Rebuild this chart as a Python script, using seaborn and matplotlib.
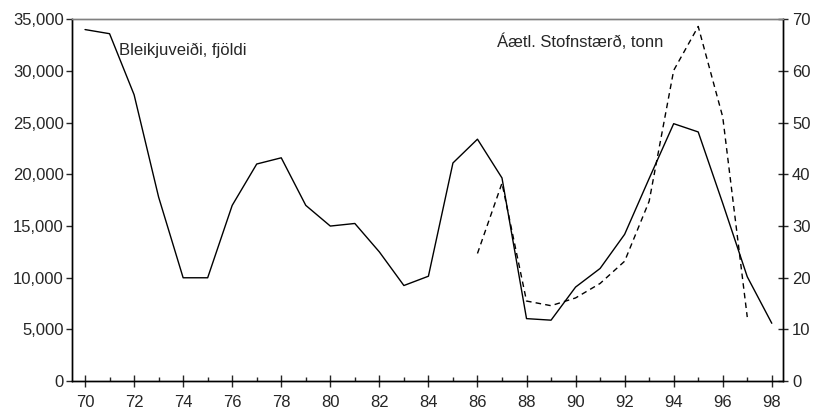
import pandas as pd
import matplotlib.pyplot as plt
import seaborn as sns
from matplotlib.ticker import FuncFormatter, MultipleLocator

# Catch (count), left axis
years = list(range(70, 99))
catch = [34000, 33600, 27700, 17800, 10000, 10000, 17000, 21000, 21600, 17000,
         15000, 15250, 12500, 9250, 10150, 21100, 23400, 19650, 6050, 5900,
         9100, 10900, 14200, 19600, 24900, 24100, 17200, 10100, 5600]

# Estimated stock size (tonnes), right axis
stock_years = list(range(86, 98))
stock = [24.7, 38.3, 15.5, 14.6, 16.1, 18.9, 23.2, 34.8, 60.1, 68.6, 51.1, 12.4]

catch_label = "Bleikjuveiði, fjöldi"
stock_label = "Áætl. Stofnstærð, tonn"

df_catch = pd.DataFrame({"year": years, "catch": catch})
df_stock = pd.DataFrame({"year": stock_years, "stock": stock})

sns.set_style("white")
plt.rcParams["font.family"] = ["Liberation Sans", "DejaVu Sans"]

fig, ax = plt.subplots(figsize=(8.14, 4.09), dpi=100)
fig.subplots_adjust(left=0.0885, right=0.962, top=0.953, bottom=0.068)

sns.lineplot(data=df_catch, x="year", y="catch", ax=ax, color="black", linewidth=1)
ax2 = ax.twinx()
sns.lineplot(data=df_stock, x="year", y="stock", ax=ax2, color="black",
             linewidth=1, linestyle=(0, (4, 3)))

ax.set_xlim(69.47, 98.46)
ax.set_ylim(0, 35000)
ax2.set_ylim(0, 70)
ax.set_xlabel("")
ax.set_ylabel("")
ax2.set_ylabel("")

ax.xaxis.set_major_locator(MultipleLocator(2))
ax.xaxis.set_minor_locator(MultipleLocator(1))
ax.xaxis.set_major_formatter(FuncFormatter(lambda v, p: f"{int(v)}"))
ax.yaxis.set_major_locator(MultipleLocator(5000))
ax.yaxis.set_major_formatter(FuncFormatter(lambda v, p: f"{int(v):,}"))
ax2.yaxis.set_major_locator(MultipleLocator(10))

ax.tick_params(axis="x", which="major", direction="inout", length=8, width=1,
               labelsize=12, pad=6, bottom=True)
ax.tick_params(axis="x", which="minor", direction="in", length=3, width=1, bottom=True)
ax.tick_params(axis="y", direction="out", length=4, width=1, labelsize=12, pad=2, left=True)
ax2.tick_params(axis="y", direction="inout", length=7, width=1, labelsize=12, pad=3, right=True)

for a in (ax, ax2):
    for s in ("left", "right", "bottom"):
        a.spines[s].set_color("black")
        a.spines[s].set_linewidth(1)
    a.spines["top"].set_color("#808080")
    a.spines["top"].set_linewidth(1)

ax.text(71.4, 32000, catch_label, fontsize=12, va="center")
ax2.text(86.8, 65.6, stock_label, fontsize=12, va="center")

plt.savefig("out.png", dpi=100)
